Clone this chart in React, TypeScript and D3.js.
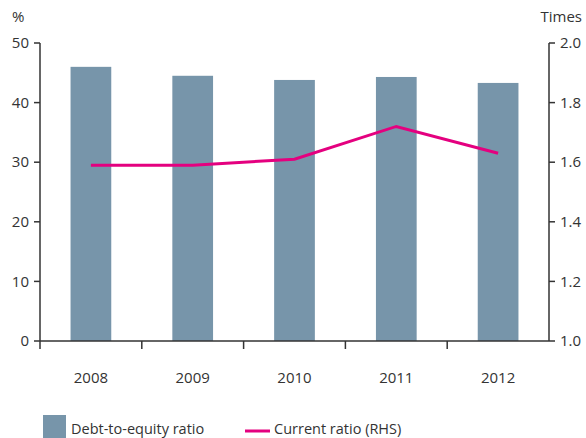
import React from 'react';
import * as d3 from 'd3';

const years = ['2008', '2009', '2010', '2011', '2012'];
const debtToEquity = [46.0, 44.5, 43.8, 44.3, 43.3];
const currentRatio = [1.59, 1.59, 1.61, 1.72, 1.63];
const leftTicks = [0, 10, 20, 30, 40, 50];
const rightTicks = [1.0, 1.2, 1.4, 1.6, 1.8, 2.0];

const W = 586;
const H = 438;
const left = 40;
const right = 549;
const top = 43;
const bottom = 341;

const barColor = '#7795aa';
const lineColor = '#e4007f';
const axisColor = '#333333';
const textColor = '#333333';
const font = '"Open Sans", sans-serif';

const App = () => {
  const x = d3.scaleBand().domain(years).range([left, right]).paddingInner(0.6).paddingOuter(0.3);
  const xb = d3.scaleBand().domain(years).range([left, right]);
  const yL = d3.scaleLinear().domain([0, 50]).range([bottom, top]);
  const yR = d3.scaleLinear().domain([1, 2]).range([bottom, top]);

  const line = d3.line<number>()
    .x((d, i) => (x(years[i]) as number) + x.bandwidth() / 2)
    .y(d => yR(d));

  const boundaries = years.map(y => xb(y) as number);

  return (
    <svg width={W} height={H} style={{ position: 'absolute', left: 0, top: 0 }} fontFamily={font}>
      {debtToEquity.map((v, i) => (
        <rect key={years[i]} x={x(years[i])} y={yL(v)} width={x.bandwidth()} height={bottom - yL(v)} fill={barColor} />
      ))}
      <path d={line(currentRatio) || ''} fill="none" stroke={lineColor} strokeWidth={3} />

      {/* left axis */}
      <line x1={left} x2={left} y1={top} y2={bottom} stroke={axisColor} strokeWidth={1.5} />
      {leftTicks.map(t => (
        <g key={t}>
          <line x1={left - 6} x2={left} y1={yL(t)} y2={yL(t)} stroke={axisColor} strokeWidth={1.5} />
          <text x={left - 11} y={yL(t)} dy="0.35em" textAnchor="end" fontSize={15} fill={textColor}>{t}</text>
        </g>
      ))}
      <text x={12} y={22} fontSize={15} fill={textColor}>%</text>

      {/* right axis */}
      <line x1={right} x2={right} y1={top} y2={bottom} stroke={axisColor} strokeWidth={1.5} />
      {rightTicks.map(t => (
        <g key={t}>
          <line x1={right} x2={right + 6} y1={yR(t)} y2={yR(t)} stroke={axisColor} strokeWidth={1.5} />
          <text x={right + 11} y={yR(t)} dy="0.35em" textAnchor="start" fontSize={15} fill={textColor}>{t.toFixed(1)}</text>
        </g>
      ))}
      <text x={582} y={22} fontSize={15} textAnchor="end" fill={textColor}>Times</text>

      {/* x axis */}
      <line x1={left} x2={right} y1={bottom} y2={bottom} stroke={axisColor} strokeWidth={1.5} />
      {boundaries.map(b => (
        <line key={b} x1={b} x2={b} y1={bottom} y2={bottom + 8} stroke={axisColor} strokeWidth={1.5} />
      ))}
      {years.map(y => (
        <text key={y} x={(xb(y) as number) + xb.bandwidth() / 2} y={383} textAnchor="middle" fontSize={15} fill={textColor}>{y}</text>
      ))}

      {/* legend */}
      <rect x={43} y={415} width={23} height={23} fill={barColor} />
      <text x={71} y={433.5} fontSize={14.5} fill={textColor}>Debt-to-equity ratio</text>
      <line x1={245} x2={270} y1={431} y2={431} stroke={lineColor} strokeWidth={3} />
      <text x={274} y={433.5} fontSize={14.5} fill={textColor}>Current ratio (RHS)</text>
    </svg>
  );
};

export default App;
